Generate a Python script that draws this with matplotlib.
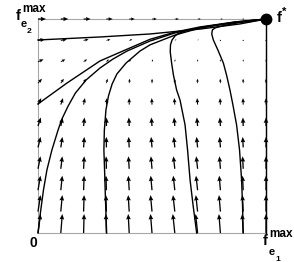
import numpy as np
import matplotlib
matplotlib.use('Agg')
import matplotlib.pyplot as plt

plt.rcParams['font.family'] = ['Liberation Sans', 'DejaVu Sans']

# grid of the direction field (both axes, normalised 0..1)
grid_levels = [0.0, 0.1, 0.2, 0.3, 0.4, 0.5, 0.6, 0.7, 0.8, 0.9, 1.0]

# vertical arrow length per row (bottom row first), in pixels
field_v_rows = [19, 16.5, 14.5, 12.5, 10.5, 8.5, 6.5, 4.5, 2.5, 1.0, 0.0]

# horizontal arrow length, rows bottom->top, columns left->right, in pixels
field_u = [
    [2.5, 1.5, 0.5, -0.5, -1.0, -1.5, -2.0, -2.0, -1.5, -1.0, 0],
    [2.5, 1.5, 0.5, -0.5, -1.0, -1.5, -1.8, -1.8, -1.4, -0.8, 0],
    [2.5, 1.5, 0.5, -0.4, -0.9, -1.3, -1.6, -1.6, -1.2, -0.7, 0],
    [2.5, 1.5, 0.6, -0.3, -0.8, -1.1, -1.4, -1.4, -1.0, -0.6, 0],
    [2.6, 1.6, 0.7, -0.1, -0.6, -0.9, -1.1, -1.1, -0.8, -0.5, 0],
    [2.8, 1.8, 0.9, 0.1, -0.4, -0.7, -0.8, -0.8, -0.6, -0.3, 0],
    [3.2, 2.2, 1.3, 0.5, 0.0, -0.3, -0.5, -0.5, -0.4, -0.2, 0],
    [4.0, 3.0, 2.0, 1.2, 0.5, 0.1, -0.1, -0.2, -0.2, -0.1, 0],
    [5.5, 4.5, 3.5, 2.5, 1.6, 0.9, 0.4, 0.1, 0.0, 0.0, 0],
    [7.0, 6.0, 5.0, 4.0, 3.2, 2.4, 1.7, 1.1, 0.6, 0.2, 0],
    [8.0, 7.5, 7.0, 6.3, 5.6, 4.8, 4.0, 3.2, 2.4, 1.2, 0],
]

# trajectories (normalised f_e1, f_e2)
traj_a_x = [0.0, 0.272, 0.491, 0.711, 0.886, 1.0]
traj_a_y = [0.902, 0.916, 0.930, 0.953, 0.977, 1.0]

traj_b_x = [0.0, 0.126, 0.272, 0.417, 0.491, 0.601, 0.711, 0.864, 1.0]
traj_b_y = [0.603, 0.700, 0.804, 0.871, 0.905, 0.939, 0.963, 0.986, 1.0]

traj_c_x = [0.0, 0.011, 0.024, 0.039, 0.061, 0.088, 0.105, 0.132, 0.164,
            0.211, 0.272, 0.329, 0.390, 0.491, 0.601, 0.711, 0.864, 1.0]
traj_c_y = [0.0, 0.098, 0.201, 0.294, 0.388, 0.481, 0.533, 0.593, 0.654,
            0.715, 0.771, 0.813, 0.850, 0.897, 0.935, 0.960, 0.986, 1.0]

traj_d_x = [0.301, 0.296, 0.292, 0.289, 0.291, 0.298, 0.309, 0.325, 0.346,
            0.386, 0.447, 0.491, 0.601, 0.711, 0.864, 1.0]
traj_d_y = [0.0, 0.154, 0.294, 0.388, 0.481, 0.575, 0.640, 0.696, 0.743,
            0.794, 0.850, 0.879, 0.925, 0.958, 0.984, 1.0]

traj_e_x = [0.696, 0.680, 0.667, 0.656, 0.645, 0.623, 0.608, 0.594, 0.586, 0.580,
            0.581, 0.588, 0.601, 0.615, 0.645, 0.667, 0.711, 0.783, 0.886, 1.0]
traj_e_y = [0.0, 0.131, 0.248, 0.388, 0.505, 0.621, 0.668, 0.738, 0.794, 0.846,
            0.879, 0.902, 0.921, 0.932, 0.944, 0.949, 0.958, 0.972, 0.986, 1.0]

traj_f_x = [0.900, 0.897, 0.893, 0.884, 0.871, 0.855, 0.842, 0.827, 0.813, 0.789,
            0.769, 0.762, 0.765, 0.776, 0.798, 0.828, 0.886, 0.930, 1.0]
traj_f_y = [0.0, 0.131, 0.248, 0.388, 0.505, 0.598, 0.668, 0.738, 0.794, 0.855,
            0.902, 0.930, 0.949, 0.958, 0.965, 0.972, 0.984, 0.988, 1.0]

traj_g_x = [1.0, 1.0]
traj_g_y = [0.0, 1.0]

fixed_point = (1.0, 1.0)

W, H = 294, 262
fig = plt.figure(figsize=(W / 100, H / 100), dpi=100)
fig.patch.set_facecolor('white')
ax = fig.add_axes([38 / W, 29 / H, 228 / W, 214 / H])
ax.set_xlim(0, 1)
ax.set_ylim(0, 1)
ax.set_xticks([])
ax.set_yticks([])
for s in ax.spines.values():
    s.set_color('#a6a6a6')
    s.set_linewidth(0.8)

# direction field
X, Y = np.meshgrid(grid_levels, grid_levels)
U = np.array(field_u)
V = np.tile(np.array(field_v_rows)[:, None], (1, len(grid_levels)))
ax.quiver(X, Y, U, V, angles='uv', scale_units='dots', scale=1,
          units='dots', width=1.3, headwidth=3.6, headlength=4.2,
          headaxislength=3.8, minshaft=1.5, color='black', pivot='tail',
          clip_on=False, zorder=3)

# trajectories
for tx, ty in [(traj_a_x, traj_a_y), (traj_b_x, traj_b_y), (traj_c_x, traj_c_y),
               (traj_d_x, traj_d_y), (traj_e_x, traj_e_y), (traj_f_x, traj_f_y),
               (traj_g_x, traj_g_y)]:
    ax.plot(tx, ty, color='black', lw=1.0, clip_on=False, zorder=4,
            solid_joinstyle='round')

ax.plot(*fixed_point, 'o', ms=7.5, color='black', clip_on=False, zorder=5)


def put(x, y, s, size):
    fig.text(x / W, 1 - y / H, s, fontsize=size, fontweight='bold',
             ha='left', va='baseline')


# labels
put(29, 247, '0', 10)
put(16, 20, 'f', 10.5)
put(22, 12, 'max', 8.5)
put(21, 27, 'e', 8)
put(27, 33, '2', 6)
put(263, 245, 'f', 10.5)
put(269, 237, 'max', 8.5)
put(269, 255, 'e', 8)
put(275, 261, '1', 6)
put(277, 22, 'f', 10.5)
put(282, 15, '*', 8)

fig.savefig('out.png', dpi=100, facecolor='white')
